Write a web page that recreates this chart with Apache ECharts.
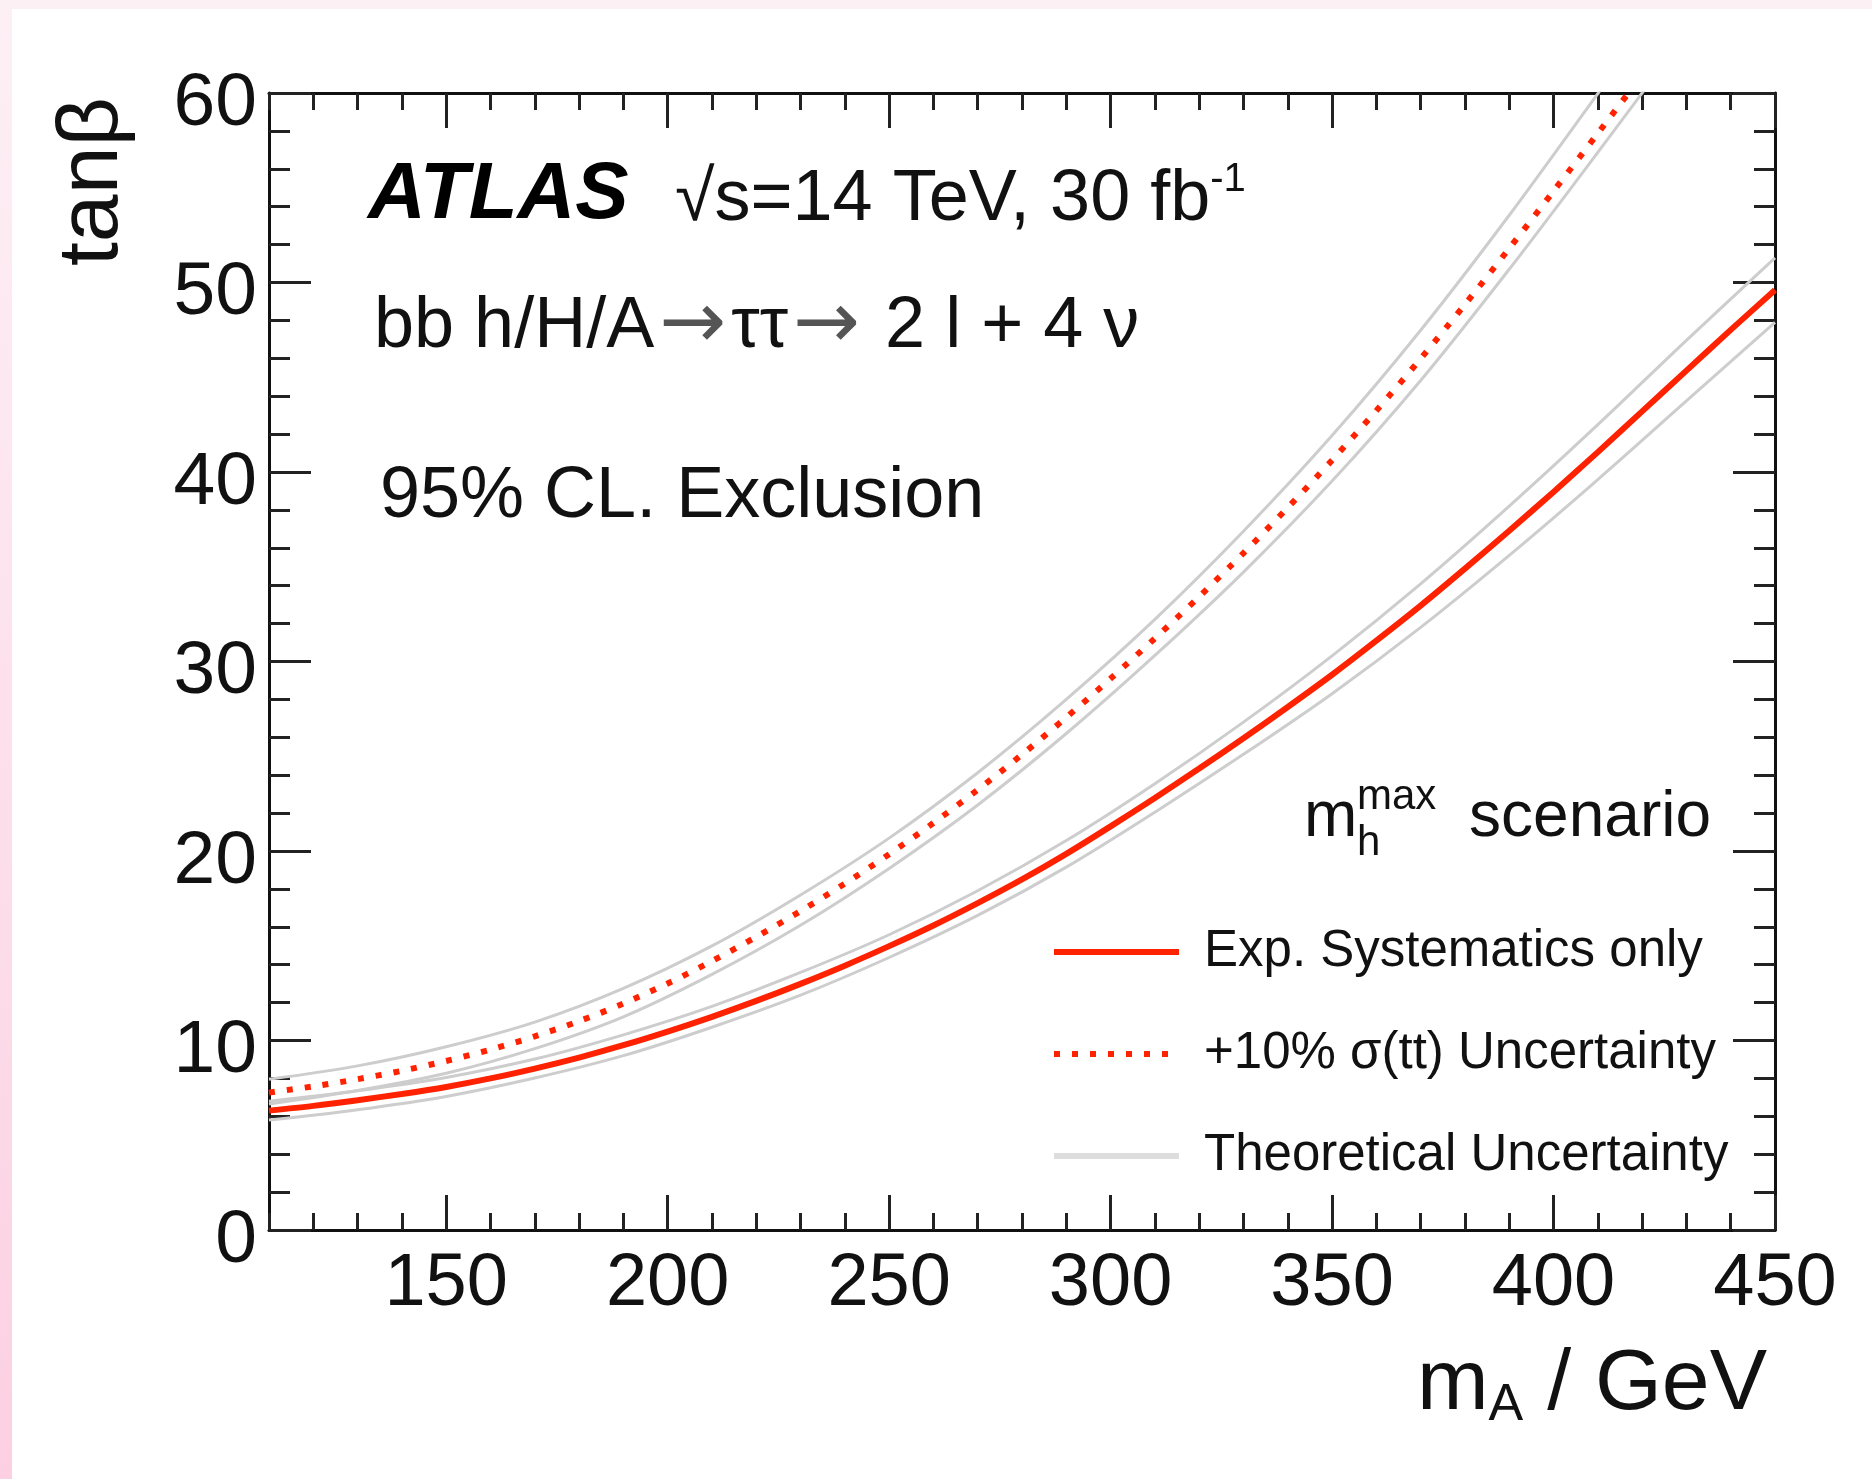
<!DOCTYPE html>
<html>
<head>
<meta charset="utf-8">
<script src="https://cdn.jsdelivr.net/npm/echarts@6/dist/echarts.min.js"></script>
<style>
html,body{margin:0;padding:0;background:#fff;}
#c{width:1872px;height:1479px;
background:
 linear-gradient(#fdf0f4,#fdf0f4) 0 0/100% 9px no-repeat,
 linear-gradient(#fdf0f5,#fcd0e2) 0 0/12px 100% no-repeat,
 #fff;}
</style>
</head>
<body>
<div id="c"></div>
<script>
// ---- data ----
const massX = [110,120,130,140,150,160,170,180,190,200,210,220,230,240,250,260,270,280,290,300,310,320,330,340,350,360,370,380,390,400,410,420,430,440,450];
const expOnly = [6.3,6.55,6.85,7.18,7.55,8.0,8.52,9.1,9.75,10.47,11.25,12.09,12.99,13.95,14.98,16.07,17.25,18.5,19.85,21.3,22.8,24.35,25.95,27.6,29.3,31.1,32.95,34.9,36.9,38.95,41.05,43.2,45.35,47.5,49.6];

const massXtt = [110,120,130,140,150,160,170,180,190,200,210,220,230,240,250,260,270,280,290,300,310,320,330,340,350,360,370,380,390,400,410,420,430];
const ttUnc = [7.25,7.58,7.96,8.4,8.92,9.52,10.22,11.02,11.95,13.01,14.19,15.47,16.83,18.28,19.83,21.48,23.23,25.09,27.05,29.1,31.22,33.42,35.72,38.12,40.62,43.24,45.98,48.84,51.8,54.82,57.87,60.95,64.05];

const bandXexp = [110,130,150,170,190,210,230,250,270,290,310,330,350,370,390,410,430,450];
const expTheoUp = [6.8,7.35,8.05,9.02,10.3,11.8,13.59,15.58,17.9,20.55,23.55,26.8,30.3,34.1,38.2,42.5,46.95,51.3];
const expTheoDn = [5.8,6.35,7.05,8.02,9.2,10.7,12.39,14.38,16.6,19.15,22.05,25.1,28.3,31.8,35.6,39.6,43.75,47.9];

const bandXtt = [110,130,150,170,190,210,230,250,270,290,310,330,350,370,390,410,430];
const ttTheoUp = [7.95,8.66,9.67,10.97,12.75,14.99,17.68,20.68,24.13,28.0,32.22,36.87,41.92,47.48,53.55,59.97,66.45];
const ttTheoDn = [6.65,7.36,8.27,9.57,11.25,13.49,16.08,19.08,22.43,26.2,30.32,34.72,39.52,44.83,50.7,56.87,63.15];

const xMajorTicks = [150,200,250,300,350,400,450];
const xMinorTicks = [110,120,130,140,160,170,180,190,210,220,230,240,260,270,280,290,310,320,330,340,360,370,380,390,410,420,430,440];
const seriesNames = ['Exp. Systematics only', '+10% σ(tt) Uncertainty', 'Theoretical Uncertainty'];

// ---- chart ----
const F = "'Liberation Sans', Arial, Helvetica, sans-serif";
const RED = '#ff2200';
const GREY = '#cdcdcd';
const zip = (xs, ys) => xs.map((x, i) => [x, ys[i]]);

const axLine = {show: true, onZero: false, lineStyle: {color: '#111', width: 3}};
const noLine = {show: false, onZero: false};
function xAx(pos, custom, len, withLine, labels) {
  return {
    type: 'value', position: pos, min: 110, max: 450,
    splitLine: {show: false},
    axisLine: withLine ? axLine : noLine,
    axisTick: {show: true, inside: true, length: len, customValues: custom, lineStyle: {color: '#222', width: 3}},
    axisLabel: labels ? {show: true, customValues: xMajorTicks, fontSize: 74, fontFamily: F, color: '#111', margin: 18} : {show: false}
  };
}
function yAx(pos, interval, len, withLine, labels) {
  return {
    type: 'value', position: pos, min: 0, max: 60, interval: interval,
    splitLine: {show: false},
    axisLine: withLine ? axLine : noLine,
    axisTick: {show: true, inside: true, length: len, lineStyle: {color: '#222', width: 3}},
    axisLabel: labels ? {show: true, fontSize: 75, fontFamily: F, color: '#111', margin: 12, verticalAlign: 'top', lineHeight: 22} : {show: false}
  };
}

const bandStyle = {color: GREY, width: 3};
function band(xs, ys) {
  return {type: 'line', name: seriesNames[2], data: zip(xs, ys), symbol: 'none', smooth: 0.3,
          lineStyle: bandStyle, itemStyle: {color: GREY}, z: 2, silent: true};
}

const option = {
  animation: false,
  grid: {left: 269, top: 93, width: 1506, height: 1137},
  xAxis: [
    xAx('bottom', xMajorTicks, 35, true, true),
    xAx('bottom', xMinorTicks, 17, false, false),
    xAx('top', xMajorTicks, 35, true, false),
    xAx('top', xMinorTicks, 17, false, false)
  ],
  yAxis: [
    yAx('left', 10, 42, true, true),
    yAx('left', 2, 21, false, false),
    yAx('right', 10, 42, true, false),
    yAx('right', 2, 21, false, false)
  ],
  legend: {
    orient: 'vertical', left: 1051, top: 922, padding: 0,
    itemWidth: 125, itemHeight: 2, itemGap: 42,
    selectedMode: false,
    itemStyle: {opacity: 0},
    lineStyle: {width: 6},
    textStyle: {fontSize: 51, fontFamily: F, color: '#111', lineHeight: 60, padding: [0, 0, 0, 20]},
    data: [
      {name: seriesNames[0]},
      {name: seriesNames[1]},
      {name: seriesNames[2], lineStyle: {color: '#dddddd', width: 6}}
    ]
  },
  graphic: [
    {type: 'text', x: 368, y: 196, z: 50, style: {text: 'ATLAS', fontSize: 80, fontWeight: 'bold', fontStyle: 'italic', fontFamily: F, fill: '#000', align: 'left', verticalAlign: 'middle'}},
    {type: 'text', x: 675, y: 200, z: 50, style: {text: '{n|√s=14 TeV, 30 fb}{s|-1}', fill: '#111', align: 'left', verticalAlign: 'middle',
      rich: {n: {fontSize: 72, fontFamily: F, lineHeight: 80, fill: '#111'}, s: {fontSize: 40, fontFamily: F, lineHeight: 56, verticalAlign: 'top', fill: '#111'}}}},
    {type: 'text', x: 374, y: 327, z: 50, style: {text: '{n|bb h/H/A}{a|→}{n|ττ}{a|→}{n| 2 l + 4 ν}', fill: '#111', align: 'left', verticalAlign: 'middle',
      rich: {n: {fontSize: 72, fontFamily: F, lineHeight: 80, fill: '#111'},
             a: {fontSize: 80, fontFamily: "'DejaVu Sans', sans-serif", lineHeight: 80, fill: '#555', padding: [0, 5, 0, 5]}}}},
    {type: 'text', x: 380, y: 497, z: 50, style: {text: '95% CL. Exclusion', fontSize: 72, fontFamily: F, fill: '#111', align: 'left', verticalAlign: 'middle'}},
    {type: 'text', x: 1304, y: 818, z: 50, style: {text: 'm', fontSize: 64, fontFamily: F, fill: '#111', align: 'left', verticalAlign: 'middle'}},
    {type: 'text', x: 1357, y: 797, z: 50, style: {text: 'max', fontSize: 42, fontFamily: F, fill: '#111', align: 'left', verticalAlign: 'middle'}},
    {type: 'text', x: 1357, y: 843, z: 50, style: {text: 'h', fontSize: 42, fontFamily: F, fill: '#111', align: 'left', verticalAlign: 'middle'}},
    {type: 'text', x: 1711, y: 818, z: 50, style: {text: 'scenario', fontSize: 64, fontFamily: F, fill: '#111', align: 'right', verticalAlign: 'middle'}},
    {type: 'text', x: 1767, y: 1385, z: 50, style: {text: '{a|m}{b|A}{a| / GeV}', fill: '#111', align: 'right', verticalAlign: 'middle',
      rich: {a: {fontSize: 86, fontFamily: F, lineHeight: 94, fill: '#111'}, b: {fontSize: 52, fontFamily: F, lineHeight: 30, verticalAlign: 'bottom', fill: '#111'}}}},
    {type: 'text', x: 93, y: 97, rotation: Math.PI / 2, z: 50, style: {text: 'tanβ', fontSize: 86, fontFamily: F, fill: '#111', align: 'right', verticalAlign: 'middle'}}
  ],
  series: [
    band(bandXexp, expTheoUp),
    band(bandXexp, expTheoDn),
    band(bandXtt, ttTheoUp),
    band(bandXtt, ttTheoDn),
    {type: 'line', name: seriesNames[0], data: zip(massX, expOnly), symbol: 'none', smooth: 0.3,
     lineStyle: {color: RED, width: 6}, itemStyle: {color: RED}, z: 3},
    {type: 'line', name: seriesNames[1], data: zip(massXtt, ttUnc), symbol: 'none', smooth: 0.3,
     lineStyle: {color: RED, width: 6, type: [6, 12]}, itemStyle: {color: RED}, z: 3}
  ]
};

const chart = echarts.init(document.getElementById('c'), null, {renderer: 'canvas'});
chart.setOption(option);
</script>
</body>
</html>
